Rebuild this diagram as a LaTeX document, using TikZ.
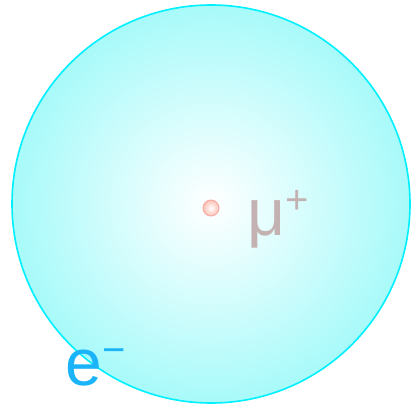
\documentclass[tikz,border=0pt]{standalone}
\usepackage{fontspec}
\setmainfont{Liberation Sans}
\usetikzlibrary{positioning}
\definecolor{cloudline}{HTML}{00F0FF}
\definecolor{cloudfill}{HTML}{A8FAFA}
\definecolor{muonink}{HTML}{C4B2B2}
\definecolor{dotline}{HTML}{F8A89C}
\definecolor{dotfill}{HTML}{FBC0B6}
\definecolor{elecink}{HTML}{1CB4F8}
\begin{document}
\begin{tikzpicture}[x=1pt, y=1pt,
  cloud/.style={circle, draw=cloudline, line width=1.6pt, inner color=white, outer color=cloudfill, minimum size=398pt, inner sep=0pt},
  dot/.style={circle, draw=dotline, line width=0.9pt, inner color=white, outer color=dotfill, minimum size=16pt, inner sep=0pt},
  lbl/.style={inner sep=0pt, anchor=base west, font=\fontsize{66}{70}\selectfont}]
\useasboundingbox (0,0) rectangle (411,407);
\node[cloud] (atom) at (211,203) {};
\node[dot] (muon) at (211,199) {};
\node[lbl, text=muonink] (mulbl) at (247.5,172) {μ\raisebox{22pt}{\fontsize{40}{40}\selectfont +}};
\node[lbl, text=elecink] (elbl) at (65.5,22) {e\raisebox{22pt}{\fontsize{40}{40}\selectfont −}};
\end{tikzpicture}
\end{document}
